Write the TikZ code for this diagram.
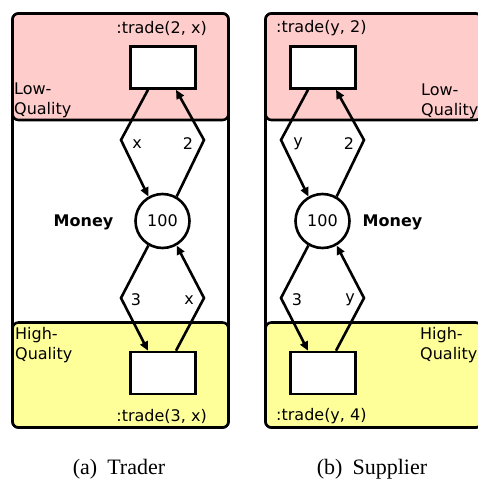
\documentclass[tikz,border=0pt]{standalone}
\usepackage{fontspec}
\setsansfont{DejaVu Sans}
\newfontfamily\capfont{Liberation Serif}
\usetikzlibrary{arrows.meta}

\definecolor{lowq}{RGB}{255,204,204}
\definecolor{highq}{RGB}{255,255,153}

\tikzset{
  part/.style={draw, line width=2.6pt, rounded corners=6pt},
  place/.style={circle, draw, fill=white, line width=2.6pt, minimum size=54pt, inner sep=0pt},
  trans/.style={rectangle, draw, fill=white, line width=2.6pt, minimum width=65pt, minimum height=42pt, inner sep=0pt},
  arc/.style={line width=2.6pt, -{Triangle[length=9pt,width=8pt]}},
  lbl/.style={inner sep=0pt, font=\sffamily\fontsize{16}{20}\selectfont},
  sub/.style={inner sep=0pt, font=\capfont\fontsize{22}{24}\selectfont},
}

\begin{document}
\begin{tikzpicture}[x=1pt,y=-1pt]
    \useasboundingbox (0,0) rectangle (478,479);

    % (a) trader
    \draw[part] (12.5,13.5) rectangle (228.5,427.5);
    \draw[part,fill=lowq] (12.5,13.5) rectangle (228.5,120);
    \draw[part,fill=highq] (12.5,322.5) rectangle (228.5,427.5);

    \node[trans] (tradeLQa) at (163,67.5) {};
    \node[trans] (tradeHQa) at (163,373) {};
    \node[place,lbl] (moneyA) at (162.5,221) {100};

    \coordinate (ulA) at (121,140);
    \coordinate (urA) at (204,140);
    \coordinate (dlA) at (121,298);
    \coordinate (drA) at (204,298);

    \draw[arc] ([xshift=-15pt]tradeLQa.south) -- (ulA) -- (moneyA.120);
    \draw[arc] (moneyA.60) -- (urA) -- ([xshift=13pt]tradeLQa.south);
    \draw[arc] (moneyA.240) -- (dlA) -- ([xshift=-15pt]tradeHQa.north);
    \draw[arc] ([xshift=13pt]tradeHQa.north) -- (drA) -- (moneyA.300);

    \node[lbl] at (137,144) {x};
    \node[lbl] at (188,144) {2};
    \node[lbl] at (136,300) {3};
    \node[lbl] at (189,300) {x};

    \node[lbl,anchor=east] at (207,28.5) {:trade(2, x)};
    \node[lbl,anchor=east] at (207,416.5) {:trade(3, x)};
    \node[lbl,align=left,anchor=north west] at (14,82.5) {Low-\\Quality};
    \node[lbl,align=left,anchor=north west] at (15,327.5) {High-\\Quality};
    \node[lbl,font=\sffamily\bfseries\fontsize{16}{20}\selectfont] at (83.5,222) {Money};

    \node[sub] at (119,469.5) {(a)\hspace{10pt}Trader};

    % (b) supplier
    \draw[part] (265.5,13.5) rectangle (481.5,427.5);
    \draw[part,fill=lowq] (265.5,13.5) rectangle (481.5,120);
    \draw[part,fill=highq] (265.5,322.5) rectangle (481.5,427.5);

    \node[trans] (tradeLQb) at (323,67.5) {};
    \node[trans] (tradeHQb) at (323,373) {};
    \node[place,lbl] (moneyB) at (322.5,221) {100};

    \coordinate (ulB) at (281,140);
    \coordinate (urB) at (364,140);
    \coordinate (dlB) at (281,298);
    \coordinate (drB) at (364,298);

    \draw[arc] ([xshift=-15pt]tradeLQb.south) -- (ulB) -- (moneyB.120);
    \draw[arc] (moneyB.60) -- (urB) -- ([xshift=13pt]tradeLQb.south);
    \draw[arc] (moneyB.240) -- (dlB) -- ([xshift=-15pt]tradeHQb.north);
    \draw[arc] ([xshift=13pt]tradeHQb.north) -- (drB) -- (moneyB.300);

    \node[lbl] at (298,144) {y};
    \node[lbl] at (349,144) {2};
    \node[lbl] at (297,300) {3};
    \node[lbl] at (350,300) {y};

    \node[lbl,anchor=west] at (276,28.5) {:trade(y, 2)};
    \node[lbl,anchor=west] at (276,416.5) {:trade(y, 4)};
    \node[lbl,align=left,anchor=north west] at (421,83.5) {Low-\\Quality};
    \node[lbl,align=left,anchor=north west] at (420,327.5) {High-\\Quality};
    \node[lbl,font=\sffamily\bfseries\fontsize{16}{20}\selectfont] at (392.5,222) {Money};

    \node[sub] at (372,469.5) {(b)\hspace{10pt}Supplier};
\end{tikzpicture}
\end{document}
